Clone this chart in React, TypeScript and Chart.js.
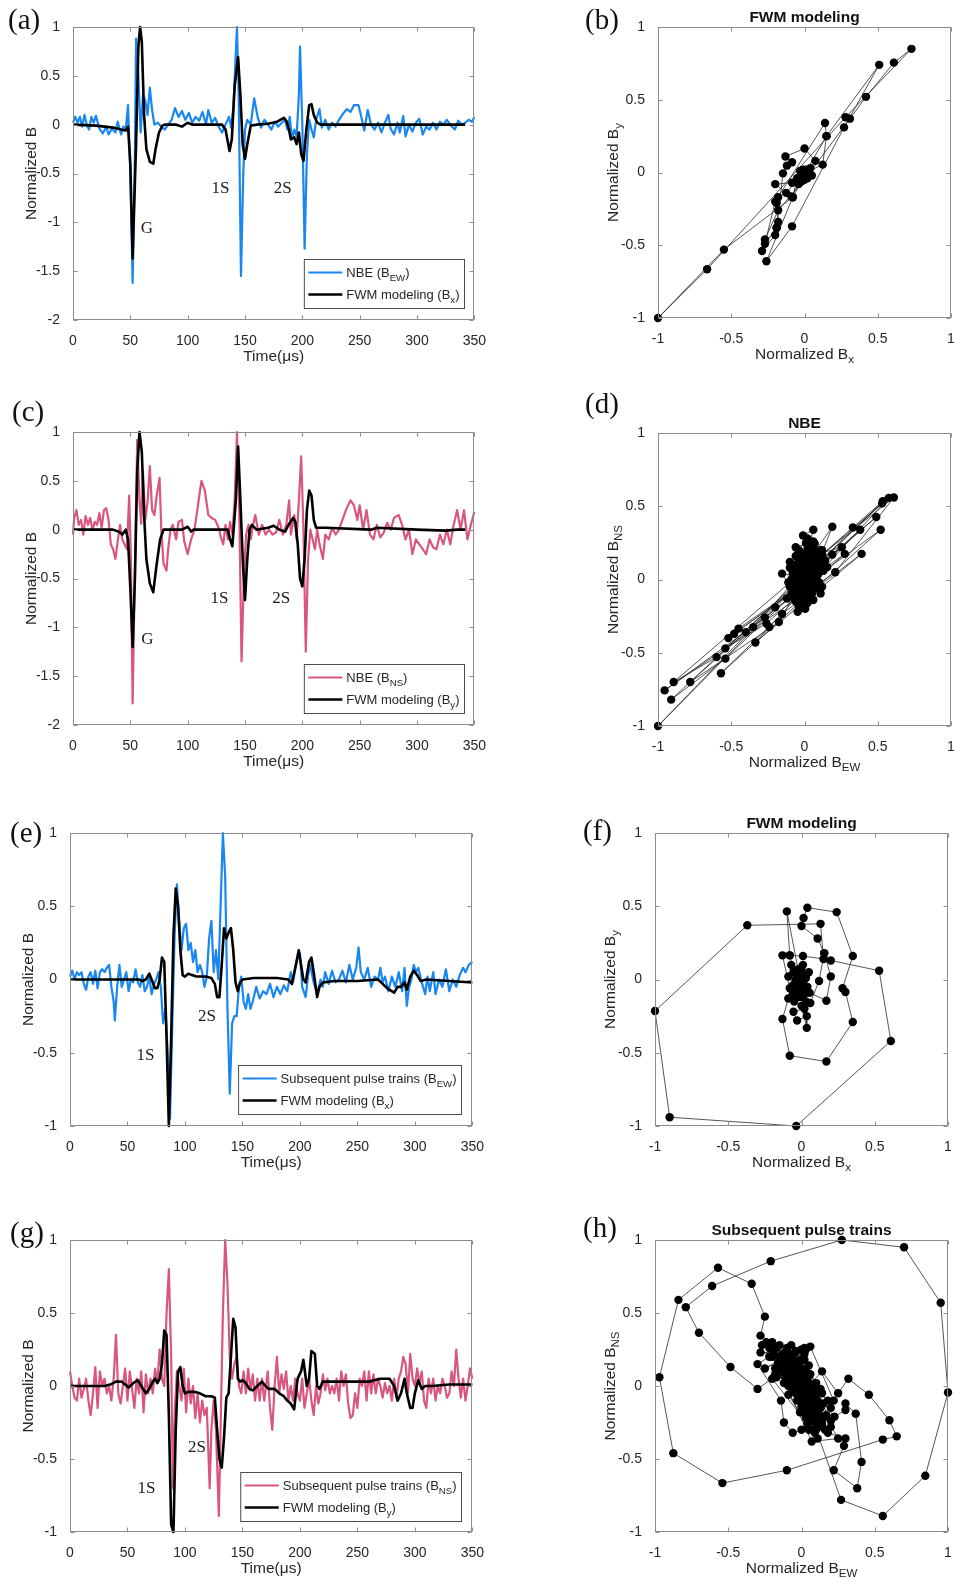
import { useEffect, useRef } from 'react'
import { Chart, registerables } from 'chart.js'

Chart.register(...registerables)

const SANS = '"Liberation Sans", Arial, Helvetica, sans-serif'
const SERIF = '"Liberation Serif", "Times New Roman", serif'
const INK = '#262626'
const FRAME = '#8c8c8c'
const BLUE = '#1a86f0'
const PINK = '#d9577f'

Chart.defaults.font.family = SANS

type Pt = [number, number]
type Run = [string, boolean]

// ---------- (a) NBE B_EW and FWM B_x ----------
const A_NBE: Pt[] = [[0,0.02],[2,0.08],[4,0.02],[6,0.08],[8,-0.02],[10,0.1],[12,0.0],[14,-0.05],[16,0.08],[18,0.02],[20,0.09],[23,-0.04],[26,-0.09],[29,-0.02],[31,-0.1],[34,-0.04],[37,-0.08],[39,0.03],[42,-0.1],[44,-0.02],[46,-0.05],[48,0.2],[50,-0.5],[52,-1.62],[54,-0.3],[55,0.88],[57,0.5],[59,-0.08],[61,0.3],[63,0.25],[65,0.1],[67,0.38],[69,0.15],[71,0.0],[74,0.02],[77,-0.02],[80,-0.05],[83,0.0],[86,0.05],[89,0.17],[92,0.08],[95,0.14],[98,0.05],[101,0.12],[104,0.02],[107,0.08],[110,0.04],[113,0.13],[116,0.0],[118,0.15],[121,0.02],[124,0.07],[127,-0.02],[130,-0.08],[133,0.0],[136,0.08],[138,-0.03],[140,0.2],[143,1.0],[144.5,0.3],[146.5,-1.55],[148.5,-0.5],[150,-0.05],[152,0.05],[155,0.0],[158,0.27],[161,0.08],[164,-0.03],[167,0.05],[170,0.0],[173,-0.05],[176,0.03],[179,-0.02],[182,0.02],[185,0.05],[187,-0.05],[189,0.08],[191,-0.15],[193,-0.05],[195,-0.12],[197,0.3],[198,0.8],[200,0.0],[202,-1.27],[204,-0.3],[206,0.05],[208,-0.05],[210,-0.13],[212,0.05],[215,0.16],[217,-0.03],[220,0.05],[223,-0.05],[226,0.02],[229,-0.02],[232,0.05],[236,0.12],[239,0.16],[242,0.13],[245,0.2],[249,0.2],[252,0.05],[254,-0.06],[257,0.15],[260,0.0],[263,-0.05],[266,0.02],[269,-0.08],[272,0.02],[275,0.1],[277,-0.04],[280,-0.1],[283,0.02],[285,-0.08],[288,0.09],[290,-0.12],[293,0.0],[296,-0.07],[299,0.02],[302,0.06],[305,-0.1],[308,-0.02],[311,-0.05],[314,0.02],[317,-0.05],[320,0.03],[323,0.0],[326,0.05],[329,0.0],[333,-0.05],[336,0.04],[339,0.0],[342,0.02],[345,0.05],[348,0.03],[350,0.08]]
const A_FWM: Pt[] = [[0,0],[20,-0.01],[35,-0.03],[42,-0.05],[46,-0.06],[48,-0.02],[50,-0.4],[52,-1.37],[55,-0.2],[57,0.8],[58.5,1.0],[60,0.85],[62,0.1],[64,-0.25],[67,-0.38],[70,-0.4],[72,-0.25],[75,-0.08],[78,-0.01],[80,0.0],[90,0.0],[95,-0.02],[100,0.02],[104,0.0],[130,0.0],[133,-0.05],[136.5,-0.27],[138.5,-0.15],[141,0.4],[144,0.69],[146,0.3],[148,-0.2],[150,-0.35],[152,-0.2],[155,-0.01],[160,0.0],[170,0.01],[178,0.03],[184,0.07],[186,0.04],[188,-0.03],[190,-0.15],[193,-0.13],[195,-0.2],[197,-0.08],[199,-0.3],[201,-0.37],[203.5,-0.05],[206,0.2],[208,0.21],[210,0.1],[213,0.02],[216,0.0],[260,0.0],[300,0.0],[342,0.0]]

// ---------- (c) NBE B_NS and FWM B_y ----------
const C_NBE: Pt[] = [[0,-0.05],[1,0.12],[3,0.2],[5,0.05],[7,0.1],[9,-0.05],[11,0.14],[13,0.05],[15,0.12],[17,0.0],[19,0.08],[21,0.05],[23,0.17],[25,0.02],[27,0.2],[29,0.22],[31,0.1],[33,-0.15],[35,-0.2],[37,-0.3],[39,-0.12],[41,0.05],[43,-0.1],[45,-0.15],[47,-0.2],[49,0.35],[50.5,-0.3],[52,-1.78],[54,-0.4],[56,0.92],[58,0.3],[59.5,0.06],[61,0.6],[63,0.1],[65,0.28],[67,0.65],[69,0.2],[71,0.15],[73,0.35],[75.5,0.53],[77,0.0],[79,-0.35],[81.5,-0.42],[83,-0.2],[85,0.0],[87,0.05],[90,-0.1],[92,0.08],[95,0.1],[97,-0.12],[100,-0.25],[103,-0.1],[106,0.0],[109,0.25],[112,0.5],[115,0.4],[118,0.15],[121,0.12],[124,0.1],[127,0.02],[129,-0.08],[131,-0.15],[133,0.05],[135,-0.1],[137,0.08],[139,-0.05],[141,0.3],[143,1.0],[145,0.2],[147,-1.35],[149,-0.5],[151,-0.05],[153,0.05],[155,-0.1],[157,0.05],[159,0.15],[162,-0.05],[165,0.05],[168,-0.05],[171,0.0],[174,-0.05],[177,-0.03],[180,0.1],[183,-0.05],[186,0.05],[188.5,0.3],[190,-0.05],[193,0.15],[195,-0.1],[197,0.3],[199,0.75],[201,0.0],[203,-1.25],[205,-0.3],[207,0.0],[209,-0.1],[211,-0.2],[213,0.0],[215,-0.15],[218,-0.3],[220,-0.05],[223,-0.1],[226,0.02],[229,-0.05],[232,0.0],[235,0.1],[238,0.2],[242,0.3],[245,0.25],[248,0.1],[250,0.25],[253,0.0],[256,0.2],[259,-0.05],[262,-0.1],[265,0.05],[268,-0.08],[271,-0.03],[274,0.07],[277,0.0],[280,0.12],[284,0.15],[287,0.05],[290,-0.1],[293,0.0],[296,-0.25],[299,-0.1],[302,-0.15],[305,-0.2],[308,-0.25],[311,-0.1],[314,-0.18],[317,-0.2],[320,-0.05],[323,-0.15],[326,0.0],[329,-0.15],[332,0.05],[335,0.2],[338,0.0],[341,0.2],[344,-0.1],[347,0.05],[350,0.18]]
const C_FWM: Pt[] = [[0,0],[35,0],[40,-0.02],[43,-0.05],[46,0.0],[48,-0.1],[50,-0.6],[52,-1.2],[54,-0.5],[56,0.6],[58,1.0],[60,0.8],[62,0.15],[64,-0.3],[67,-0.55],[70,-0.64],[73,-0.35],[76,-0.1],[79,0.0],[95,0.0],[100,0.03],[103,-0.02],[105,0.0],[135,0.0],[137,-0.1],[139,-0.17],[142,0.3],[144,0.85],[146,0.3],[148,-0.3],[150,-0.72],[152,-0.3],[154,0.0],[156,0.05],[160,0.0],[170,0.02],[175,0.04],[180,0.0],[185,-0.02],[188,0.05],[192,0.12],[194,0.08],[196,-0.15],[198,-0.5],[200,-0.58],[202,-0.3],[204,0.2],[206,0.4],[208,0.35],[210,0.1],[212,0.02],[220,0.02],[260,0.0],[265,0.02],[300,0.0],[325,-0.01],[335,0.0],[342,0.0]]

// ---------- (e) subsequent pulse trains B_EW and FWM B_x ----------
const E_SPT: Pt[] = [[0,0.02],[2,0.06],[4,0.0],[6,0.05],[8,0.03],[10,0.05],[12,-0.03],[14,-0.07],[16,0.02],[18,0.05],[20,-0.03],[22,0.06],[24,-0.06],[26,0.05],[28,0.07],[30,0.05],[32,0.08],[34,0.1],[36,-0.05],[38,-0.15],[39,-0.28],[41,-0.05],[43,0.1],[45,-0.05],[47,0.0],[49,0.05],[51,-0.08],[53,0.0],[55,-0.02],[57,0.07],[59,-0.02],[61,-0.05],[63,0.03],[65,-0.08],[67,-0.05],[69,0.02],[71,-0.1],[73,-0.03],[75,0.0],[77,0.05],[79,-0.05],[81,-0.3],[83,-0.2],[85,-0.5],[87,-0.95],[89,-0.3],[91,0.3],[93,0.65],[95,0.4],[97,0.2],[99,0.35],[101,0.38],[103,0.2],[105,0.25],[107,0.12],[109,0.2],[111,0.05],[113,0.1],[115,0.05],[117,-0.05],[119,0.02],[121,0.28],[123,0.4],[125,0.05],[127,0.2],[129,0.0],[131,0.5],[133,1.0],[135,0.7],[137,-0.2],[139,-0.78],[141,-0.3],[143,-0.25],[145,-0.25],[147,-0.05],[149,0.02],[151,-0.15],[153,-0.2],[155,-0.1],[157,-0.2],[159,-0.15],[162,-0.05],[165,-0.13],[168,-0.08],[171,-0.1],[174,-0.03],[177,-0.12],[180,-0.05],[183,-0.1],[186,-0.04],[189,-0.08],[192,0.05],[194,-0.02],[196,0.08],[198,0.15],[200,0.18],[202,-0.05],[205,-0.12],[207,0.02],[209,0.1],[212,-0.02],[215,-0.1],[218,0.0],[220,-0.05],[222,0.05],[225,-0.03],[228,0.06],[231,-0.02],[234,0.0],[237,0.06],[240,-0.02],[243,0.1],[246,0.0],[249,0.08],[251,0.22],[253,0.05],[256,0.0],[259,0.08],[262,-0.05],[265,0.02],[268,0.0],[270,0.08],[272,-0.02],[274,0.02],[277,-0.08],[280,0.02],[283,-0.05],[286,0.05],[289,-0.08],[291,0.08],[293,-0.18],[295,-0.05],[297,0.0],[299,0.1],[301,0.05],[303,0.08],[306,-0.02],[309,-0.1],[311,0.02],[313,-0.08],[316,0.05],[318,-0.1],[321,0.0],[324,-0.05],[327,0.07],[330,-0.08],[333,0.0],[336,-0.05],[339,0.03],[342,0.08],[344,0.05],[347,0.1],[350,0.12]]
const E_FWM: Pt[] = [[0,0],[30,0],[60,0],[63,-0.01],[66,0.0],[69,0.04],[72,-0.02],[74,-0.06],[76,-0.06],[78,0.0],[80,0.15],[82,0.12],[84,-0.4],[86,-1.0],[88,-0.4],[90,0.3],[92,0.62],[94,0.5],[96,0.2],[98,0.03],[100,0.02],[103,0.04],[106,0.03],[110,0.02],[118,0.02],[123,0.01],[126,-0.03],[128,-0.12],[130,-0.12],[132,0.1],[134,0.35],[136,0.28],[138,0.32],[140,0.35],[142,0.2],[144,-0.02],[146,-0.08],[148,-0.02],[150,0.0],[160,0.01],[170,0.01],[180,0.01],[190,0.0],[193,-0.03],[196,0.08],[199,0.2],[201,0.1],[203,0.0],[205,-0.02],[208,0.12],[210,0.15],[212,0.05],[215,-0.12],[217,-0.05],[220,-0.02],[230,-0.01],[250,-0.01],[268,0.0],[272,-0.03],[276,-0.06],[282,-0.09],[285,-0.05],[288,-0.05],[291,-0.02],[293,-0.07],[296,0.02],[299,0.06],[302,0.03],[305,-0.01],[310,0.0],[330,-0.01],[350,-0.02]]

// ---------- (g) subsequent pulse trains B_NS and FWM B_y ----------
const G_SPT: Pt[] = [[0,0.1],[2,0.0],[4,-0.08],[6,-0.1],[8,0.05],[10,-0.08],[12,-0.02],[14,0.05],[16,-0.1],[18,-0.2],[20,-0.05],[22,0.13],[24,-0.15],[26,0.1],[28,0.0],[30,0.05],[32,-0.05],[34,0.0],[36,-0.1],[38,0.05],[40,0.35],[42,-0.05],[44,-0.12],[46,0.0],[48,0.12],[50,-0.1],[52,0.1],[54,-0.02],[56,-0.15],[58,0.05],[60,-0.05],[62,0.1],[64,-0.18],[66,0.08],[68,-0.05],[70,0.05],[72,-0.05],[74,0.12],[76,0.02],[78,0.25],[80,0.05],[82,0.0],[84,0.5],[86,0.8],[88,0.2],[89.5,-0.7],[91,-0.2],[93,0.1],[95,0.0],[97,-0.1],[99,0.12],[101,-0.18],[103,0.05],[105,-0.12],[107,0.0],[109,-0.22],[111,-0.05],[113,-0.25],[115,-0.1],[117,-0.2],[119,-0.15],[121.5,-0.7],[123,-0.3],[125,-0.1],[127,-0.3],[129.5,-0.89],[131,-0.3],[133,0.5],[135,1.0],[137,0.7],[139,0.2],[141,0.05],[143,0.15],[145,0.2],[147,0.0],[149,-0.05],[151,0.1],[153,-0.05],[155,0.12],[157,-0.03],[159,0.08],[161,-0.1],[163,0.05],[165,-0.1],[167,0.05],[169,-0.1],[172,0.1],[174,-0.15],[176,-0.3],[178,0.0],[180,0.2],[182,-0.05],[184,0.08],[186,-0.02],[188,0.1],[190,-0.1],[192,0.0],[194,-0.1],[196,0.05],[198,-0.05],[200,-0.1],[202,0.05],[204,-0.15],[206,-0.05],[208,0.05],[210,-0.1],[212,-0.2],[214,0.0],[216,-0.12],[218,-0.05],[220,0.08],[222,-0.03],[224,0.05],[226,-0.05],[228,0.0],[230,-0.05],[232,0.05],[234,-0.1],[236,0.1],[238,0.0],[240,0.08],[242,-0.12],[244,-0.22],[246,-0.2],[248,-0.05],[250,-0.15],[252,0.05],[254,0.0],[256,0.1],[258,-0.1],[260,0.1],[262,-0.05],[264,0.08],[266,-0.05],[268,0.05],[270,0.0],[272,-0.08],[274,0.02],[276,-0.05],[278,0.0],[280,-0.1],[282,0.05],[284,-0.08],[286,0.05],[288,0.1],[290,0.2],[292,0.15],[294,-0.05],[296,0.22],[298,0.05],[300,0.0],[302,0.12],[304,0.02],[306,0.1],[308,-0.1],[310,-0.15],[312,0.05],[314,-0.05],[316,0.05],[318,-0.1],[320,0.0],[322,-0.05],[324,0.05],[326,0.0],[328,-0.08],[330,-0.05],[332,0.1],[334,0.0],[336,0.25],[338,0.05],[340,-0.08],[342,0.05],[344,-0.1],[346,0.0],[348,0.12],[350,0.05]]
const G_FWM: Pt[] = [[0,0],[30,0],[35,0.01],[40,0.03],[45,0.03],[48,0.01],[51,-0.01],[55,0.02],[59,0.04],[62,0.0],[66,-0.05],[69,-0.02],[72,0.03],[74,0.05],[76,0.02],[78,0.05],[80,0.15],[82,0.38],[84,0.35],[86,-0.2],[88,-0.95],[90,-1.0],[92,-0.3],[94,0.1],[96,0.13],[98,0.0],[100,-0.05],[103,-0.04],[108,-0.04],[113,-0.05],[118,-0.07],[123,-0.07],[126,-0.08],[128,-0.3],[130,-0.5],[132,-0.56],[134,-0.35],[136,-0.08],[138,-0.05],[140,0.2],[142,0.46],[144,0.4],[146,0.05],[148,0.03],[150,0.04],[153,0.02],[156,-0.02],[159,-0.03],[163,0.0],[167,0.03],[170,0.0],[173,-0.02],[178,-0.02],[182,-0.05],[186,-0.07],[189,-0.1],[192,-0.12],[195,-0.16],[198,0.05],[201,0.1],[203,0.18],[206,0.0],[208,0.05],[210,0.24],[213,0.22],[215,0.0],[217,-0.02],[220,0.03],[225,0.03],[240,0.03],[260,0.03],[270,0.05],[278,0.05],[282,0.0],[285,-0.1],[288,-0.05],[291,0.05],[293,-0.05],[296,-0.15],[298,-0.15],[300,-0.05],[303,0.04],[306,-0.02],[309,0.0],[315,0.0],[330,0.01],[350,0.01]]

// ---------- hodograms (normalized B components, in time order) ----------
const B_XY: Pt[] = [[0,0],[0.01,-0.01],[-0.02,0.0],[0.02,-0.02],[-0.03,-0.03],[-0.05,-0.04],[-0.08,-0.17],[-0.55,-0.53],[-1,-1],[-0.665,-0.665],[0.28,0.38],[0.73,0.85],[0.61,0.755],[0.42,0.52],[0.31,0.37],[0.0,-0.05],[-0.18,-0.26],[-0.27,-0.46],[-0.29,-0.54],[-0.2,-0.43],[-0.19,-0.38],[-0.18,-0.34],[-0.19,-0.21],[-0.18,-0.17],[-0.125,-0.14],[-0.05,-0.05],[-0.02,0.0],[0.02,0.01],[-0.01,0.02],[0.03,-0.01],[0.0,0.0],[0.01,0.02],[-0.03,0.01],[-0.085,-0.07],[-0.2,-0.08],[-0.09,-0.165],[0.15,0.25],[0.51,0.74],[0.27,0.31],[-0.085,-0.37],[-0.26,-0.61],[-0.08,-0.17],[-0.02,-0.06],[0.05,-0.02],[0.02,0.0],[0.04,0.03],[0.074,0.08],[0.0,0.165],[-0.13,0.11],[-0.085,0.07],[-0.12,0.047],[-0.147,-0.006],[-0.19,-0.38],[-0.27,-0.49],[-0.2,-0.2],[0.14,0.34],[0.15,0.25],[0.124,0.054],[0.03,0.01],[-0.01,-0.03],[0.0,0.0],[-0.04,-0.08],[0.02,-0.04]]

const D_XY: Pt[] = [[0.02,0.05],[-0.03,0.1],[0.04,0.02],[0.0,0.12],[-0.05,0.04],[0.06,0.08],[0.01,-0.03],[0.05,0.1],[-0.02,0.06],[0.07,0.12],[0.0,-0.08],[-0.06,-0.15],[-0.02,-0.12],[0.03,-0.02],[-0.07,-0.06],[-0.03,-0.1],[0.12,0.2],[-0.35,-0.325],[-1,-1],[-0.2,-0.19],[0.535,0.535],[0.33,0.355],[-0.04,0.03],[0.19,0.36],[0.07,0.06],[0.04,0.16],[0.255,0.22],[0.06,0.1],[0.0,0.12],[0.06,0.34],[-0.01,0.3],[0.07,0.245],[0.02,0.2],[-0.05,0.02],[-0.153,0.04],[-0.1,-0.05],[-0.04,-0.18],[0.03,-0.1],[-0.08,-0.12],[0.0,-0.02],[0.05,0.05],[-0.03,0.08],[0.09,0.15],[0.02,-0.05],[-0.06,0.0],[0.01,0.04],[0.08,0.0],[-0.02,-0.15],[0.05,0.18],[-0.04,0.12],[0.1,0.08],[0.0,0.0],[-0.07,0.06],[0.04,-0.08],[0.12,0.17],[0.61,0.56],[0.21,0.05],[-0.955,-0.757],[-0.27,-0.26],[-0.01,-0.05],[0.08,-0.03],[0.155,0.085],[0.03,0.1],[-0.05,-0.08],[0.11,-0.095],[0.06,-0.14],[-0.03,0.02],[0.04,0.13],[0.0,-0.12],[-0.09,0.0],[0.06,0.02],[-0.02,0.18],[0.1,0.12],[0.02,0.28],[-0.04,0.2],[0.03,0.06],[-0.08,-0.02],[0.0,0.06],[0.05,-0.04],[-0.047,-0.22],[0.005,-0.2],[-0.02,-0.08],[0.19,0.17],[0.49,0.427],[0.0,0.0],[-0.78,-0.7],[-0.175,-0.29],[-0.04,-0.06],[-0.12,-0.13],[0.52,0.34],[-0.57,-0.64],[-0.153,-0.235],[0.39,0.175],[-0.335,-0.43],[-0.24,-0.325],[0.575,0.557],[-0.893,-0.7],[-0.6,-0.53],[0.53,0.52],[-0.91,-0.82],[-0.54,-0.54],[0.38,0.34],[-0.54,-0.47],[-0.26,-0.3],[0.275,0.175],[-0.52,-0.4],[-0.48,-0.37],[0.1,0.05],[-0.45,-0.335],[-0.4,-0.36],[0.0,-0.05],[0.05,0.04],[0.12,0.1],[-0.06,-0.1],[0.03,0.0],[-0.02,0.05],[0.06,-0.06],[-0.1,0.08],[0.01,0.14],[0.04,-0.12],[-0.05,0.1],[0.09,0.03],[-0.03,-0.03],[0.02,0.08],[0.07,-0.02],[-0.01,-0.1],[0.0,0.03],[-0.08,0.04],[0.11,0.2],[-0.06,0.16],[0.08,0.1],[-0.09,-0.1],[0.13,0.06],[-0.03,-0.2],[0.03,0.22],[-0.11,-0.02],[0.09,-0.06],[-0.05,-0.14],[0.14,0.13],[0.01,0.25],[-0.07,0.1],[0.05,-0.1],[-0.01,0.16],[0.1,-0.02],[-0.04,-0.04],[0.07,0.2],[-0.1,0.12],[0.02,-0.16],[0.06,0.26],[-0.06,0.22],[0.12,-0.05]]

const F_XY: Pt[] = [[0.0,0.0],[-0.02,0.02],[0.01,-0.03],[-0.03,0.05],[0.02,0.03],[-0.01,-0.06],[0.03,0.01],[-0.04,-0.02],[0.0,0.08],[0.02,-0.1],[-0.05,0.06],[0.04,-0.05],[-0.02,-0.12],[0.01,0.1],[-0.06,-0.04],[0.03,-0.15],[-0.09,0.02],[-0.07,0.1],[0.05,0.05],[-0.08,-0.06],[-0.13,0.165],[-0.08,0.165],[0.01,0.16],[0.15,0.14],[0.13,0.38],[-0.37,0.37],[-1,-0.215],[-0.9,-0.94],[-0.036,-1],[0.61,-0.42],[0.53,0.06],[0.2,0.13],[0.155,0.18],[0.12,-0.01],[0.06,-0.16],[0.02,-0.2],[-0.055,-0.22],[-0.03,-0.28],[0.036,-0.25],[0.036,-0.33],[0.0,-0.18],[-0.09,-0.13],[-0.13,-0.27],[-0.08,-0.52],[0.17,-0.56],[0.35,-0.29],[0.3,-0.085],[0.28,-0.06],[0.35,0.16],[0.24,0.46],[0.04,0.49],[0.014,0.42],[0.0,0.365],[0.11,0.28],[0.155,0.18],[0.2,0.02],[0.17,-0.145],[0.055,-0.09],[0.0,-0.05],[-0.1,0.465],[-0.08,0.165],[-0.05,0.05],[0.0,0.02],[-0.03,-0.08],[0.02,-0.05],[-0.06,-0.1],[0.01,0.04],[-0.04,0.0],[0.03,-0.08],[-0.02,0.07],[0.0,-0.12],[-0.05,-0.15],[0.02,0.0]]

const H_XY: Pt[] = [[-0.02,0.05],[0.03,-0.04],[-0.06,0.08],[0.05,-0.08],[0.0,0.0],[-0.1,0.12],[0.08,-0.12],[-0.04,0.02],[0.02,0.06],[0.06,-0.02],[-0.08,0.04],[0.1,-0.06],[-0.03,0.15],[0.04,-0.15],[-0.12,0.18],[0.12,-0.2],[0.01,-0.1],[-0.05,0.1],[0.07,-0.05],[-0.09,0.0],[0.03,0.1],[-0.01,-0.06],[0.14,0.1],[0.25,-0.05],[0.32,0.05],[0.46,-0.06],[0.6,-0.235],[0.65,-0.345],[0.555,-0.367],[-0.1,-0.577],[-0.54,-0.665],[-0.875,-0.46],[-0.97,0.06],[-0.84,0.59],[-0.57,0.81],[-0.34,0.7],[-0.25,0.475],[-0.28,0.345],[-0.2,0.3],[-0.27,0.28],[-0.17,0.26],[-0.22,0.2],[-0.1,0.24],[-0.14,0.18],[-0.25,0.12],[-0.05,0.22],[-0.12,0.1],[-0.18,0.08],[0.0,0.18],[-0.08,0.14],[0.03,0.25],[0.09,-0.18],[-0.14,0.1],[0.05,0.02],[-0.07,0.2],[0.11,-0.1],[-0.02,-0.02],[0.0,0.12],[0.06,-0.22],[-0.11,0.06],[0.08,0.0],[-0.04,-0.05],[0.13,-0.15],[0.2,-0.28],[0.29,-0.41],[0.22,-0.577],[0.38,-0.7],[0.41,-0.52],[0.37,-0.19],[0.3,-0.12],[0.3,-0.165],[0.225,-0.21],[-0.06,0.14],[0.02,-0.18],[-0.16,0.16],[0.04,0.04],[-0.01,0.08],[0.1,-0.25],[-0.08,0.1],[0.07,-0.14],[-0.03,-0.1],[0.15,-0.12],[-0.13,0.22],[0.0,-0.14],[0.05,-0.3],[-0.05,0.18],[0.12,-0.28],[-0.1,0.26],[0.02,0.18],[-0.18,0.12],[0.1,-0.3],[0.27,-0.78],[0.555,-0.89],[0.845,-0.615],[1.0,-0.045],[0.95,0.57],[0.7,0.95],[0.275,1.0],[-0.21,0.855],[-0.61,0.685],[-0.79,0.54],[-0.7,0.365],[-0.485,0.13],[-0.3,-0.02],[-0.2,0.05],[0.09,-0.32],[0.17,-0.2],[-0.06,-0.02],[0.03,-0.22],[-0.2,0.2],[0.06,0.08],[0.14,-0.05],[-0.12,0.02],[0.0,0.25],[0.08,-0.3],[-0.15,0.28],[0.2,-0.24],[-0.04,0.24],[0.1,0.02],[-0.09,-0.06],[0.04,-0.26],[0.18,-0.1],[-0.22,0.26],[0.11,-0.36],[-0.07,0.28],[0.05,0.14],[-0.17,0.06],[0.13,-0.02],[-0.01,-0.18],[0.16,-0.3],[-0.24,0.3],[0.07,-0.38],[0.25,-0.36],[0.3,-0.36],[0.18,-0.32],[0.02,0.22],[-0.28,0.23],[-0.19,0.22],[-0.3,0.15],[-0.14,-0.1],[-0.12,-0.25],[-0.06,-0.32],[0.0,-0.3],[0.08,-0.24],[0.2,-0.15],[0.22,-0.1],[0.06,0.27],[0.02,0.26],[-0.03,0.04],[0.04,-0.06],[-0.07,0.06],[0.01,-0.02],[0.09,-0.08],[-0.05,0.0],[0.0,0.06],[0.05,-0.12],[-0.09,0.08],[0.12,-0.12],[-0.02,0.1],[0.07,-0.2],[-0.13,0.14],[0.03,-0.08],[0.1,-0.16],[-0.06,0.04],[0.15,-0.22],[-0.02,0.16],[0.06,-0.1],[-0.1,0.18],[0.01,0.02],[0.14,-0.26],[-0.04,0.08],[0.09,-0.04],[-0.15,0.2],[0.04,-0.18],[-0.08,0.22]]

const TIME_TICKS = { min: 0, max: 350, step: 50 }
const HODO_TICKS = { min: -1, max: 1, step: 0.5 }

// ---------- drawing helpers ----------
interface Decor {
  xTitle: Run[]
  yTitle: Run[]
  yTitleOff: number
  title?: string
  notes?: { x: number; y: number; text: string }[]
  legend?: { color: string; width: number; runs: Run[] }[]
  legendRight?: number
  legendBottom?: number
}

function runsWidth(ctx: CanvasRenderingContext2D, runs: Run[], size: number) {
  let w = 0
  for (const [s, sub] of runs) {
    ctx.font = `${sub ? size * 0.74 : size}px ${SANS}`
    w += ctx.measureText(s).width
  }
  return w
}

function drawRuns(ctx: CanvasRenderingContext2D, runs: Run[], x: number, y: number, size: number) {
  let cx = x
  for (const [s, sub] of runs) {
    const fs = sub ? size * 0.74 : size
    ctx.font = `${fs}px ${SANS}`
    ctx.fillText(s, cx, sub ? y + size * 0.3 : y)
    cx += ctx.measureText(s).width
  }
}

function decorPlugin(d: Decor) {
  return {
    id: 'decor',
    afterDatasetsDraw(chart: any) {
      const { ctx, chartArea: a, scales } = chart
      const l = Math.round(a.left) + 0.5
      const r = Math.round(a.right) - 0.5
      const t = Math.round(a.top) + 0.5
      const b = Math.round(a.bottom) - 0.5
      ctx.save()
      ctx.strokeStyle = FRAME
      ctx.lineWidth = 1
      ctx.strokeRect(l, t, r - l, b - t)
      ctx.beginPath()
      for (const tk of scales.x.ticks) {
        const x = Math.round(scales.x.getPixelForValue(tk.value)) + 0.5
        ctx.moveTo(x, b); ctx.lineTo(x, b - 4)
        ctx.moveTo(x, t); ctx.lineTo(x, t + 4)
      }
      for (const tk of scales.y.ticks) {
        const y = Math.round(scales.y.getPixelForValue(tk.value)) + 0.5
        ctx.moveTo(l, y); ctx.lineTo(l + 4, y)
        ctx.moveTo(r, y); ctx.lineTo(r - 4, y)
      }
      ctx.stroke()

      if (d.notes) {
        ctx.fillStyle = '#1a1a1a'
        ctx.font = `17px ${SERIF}`
        ctx.textAlign = 'center'
        ctx.textBaseline = 'middle'
        for (const n of d.notes) {
          ctx.fillText(n.text, scales.x.getPixelForValue(n.x), scales.y.getPixelForValue(n.y))
        }
      }

      if (d.legend) {
        const fs = 13
        const tw = Math.max(...d.legend.map(e => runsWidth(ctx, e.runs, fs)))
        const w = 42 + tw + 5
        const h = 49
        const x1 = Math.round(a.right - (d.legendRight ?? 9)) - 0.5
        const y1 = Math.round(a.bottom - (d.legendBottom ?? 11)) - 0.5
        const x0 = x1 - w
        const y0 = y1 - h
        ctx.fillStyle = '#fff'
        ctx.fillRect(x0, y0, w, h)
        ctx.strokeStyle = '#4d4d4d'
        ctx.lineWidth = 1
        ctx.strokeRect(x0, y0, w, h)
        d.legend.forEach((e, i) => {
          const cy = y0 + 13 + i * 22
          ctx.strokeStyle = e.color
          ctx.lineWidth = e.width
          ctx.beginPath()
          ctx.moveTo(x0 + 4, cy); ctx.lineTo(x0 + 38, cy)
          ctx.stroke()
          ctx.fillStyle = INK
          ctx.textAlign = 'left'
          ctx.textBaseline = 'alphabetic'
          drawRuns(ctx, e.runs, x0 + 42, cy + 4.5, fs)
        })
      }
      ctx.restore()
    },
    afterDraw(chart: any) {
      const { ctx, chartArea: a } = chart
      const fs = 15.5
      ctx.save()
      ctx.fillStyle = INK
      ctx.textAlign = 'left'
      ctx.textBaseline = 'alphabetic'
      const cx = (a.left + a.right) / 2
      const xw = runsWidth(ctx, d.xTitle, fs)
      drawRuns(ctx, d.xTitle, cx - xw / 2, a.bottom + 35 + 5.5, fs)
      const yw = runsWidth(ctx, d.yTitle, fs)
      ctx.translate(a.left - d.yTitleOff, (a.top + a.bottom) / 2)
      ctx.rotate(-Math.PI / 2)
      drawRuns(ctx, d.yTitle, -yw / 2, 5.5, fs)
      ctx.restore()
      if (d.title) {
        ctx.save()
        ctx.fillStyle = '#111'
        ctx.font = `bold 15.5px ${SANS}`
        ctx.textAlign = 'center'
        ctx.textBaseline = 'alphabetic'
        ctx.fillText(d.title, cx, a.top - 11 + 5.5)
        ctx.restore()
      }
    },
  }
}

const L = 70
const T = 22
const R = 16
const B = 50

interface PanelSpec {
  tag: string
  tagX: number
  tagY: number
  box: [number, number, number, number]
  xr: { min: number; max: number; step: number }
  yr: { min: number; max: number; step: number }
  datasets: any[]
  decor: Decor
}

function line(data: Pt[], color: string, width: number) {
  return {
    data: data.map(([x, y]) => ({ x, y })),
    showLine: true,
    borderColor: color,
    borderWidth: width,
    borderJoinStyle: 'round',
    pointRadius: 0,
    tension: 0,
    clip: false,
  }
}

function hodo(data: Pt[]) {
  return {
    data: data.map(([x, y]) => ({ x, y })),
    showLine: true,
    borderColor: '#2b2b2b',
    borderWidth: 0.8,
    pointRadius: 4.2,
    pointBackgroundColor: '#000',
    pointBorderWidth: 0,
    tension: 0,
    clip: false,
  }
}

const timeY = (min: number) => ({ min, max: 1, step: 0.5 })

const PANELS: PanelSpec[] = [
  {
    tag: '(a)', tagX: 8, tagY: 19, box: [73, 27, 402, 293], xr: TIME_TICKS, yr: timeY(-2),
    datasets: [line(A_FWM, '#000', 2.6), line(A_NBE, BLUE, 2.2)],
    decor: {
      xTitle: [['Time(μs)', false]], yTitle: [['Normalized B', false]], yTitleOff: 43,
      notes: [{ x: 64.5, y: -1.06, text: 'G' }, { x: 128.7, y: -0.655, text: '1S' }, { x: 183, y: -0.655, text: '2S' }],
      legend: [
        { color: BLUE, width: 2.2, runs: [['NBE (B', false], ['EW', true], [')', false]] },
        { color: '#000', width: 2.6, runs: [['FWM modeling (B', false], ['x', true], [')', false]] },
      ],
    },
  },
  {
    tag: '(b)', tagX: 585, tagY: 19, box: [658, 27, 293, 291], xr: HODO_TICKS, yr: HODO_TICKS,
    datasets: [hodo(B_XY)],
    decor: { xTitle: [['Normalized B', false], ['x', true]], yTitle: [['Normalized B', false], ['y', true]], yTitleOff: 46, title: 'FWM modeling' },
  },
  {
    tag: '(c)', tagX: 12, tagY: 411, box: [73, 432, 402, 293], xr: TIME_TICKS, yr: timeY(-2),
    datasets: [line(C_FWM, '#000', 2.6), line(C_NBE, PINK, 2.2)],
    decor: {
      xTitle: [['Time(μs)', false]], yTitle: [['Normalized B', false]], yTitleOff: 43,
      notes: [{ x: 64.8, y: -1.125, text: 'G' }, { x: 127.8, y: -0.71, text: '1S' }, { x: 181.5, y: -0.705, text: '2S' }],
      legend: [
        { color: PINK, width: 2.2, runs: [['NBE (B', false], ['NS', true], [')', false]] },
        { color: '#000', width: 2.6, runs: [['FWM modeling (B', false], ['y', true], [')', false]] },
      ],
    },
  },
  {
    tag: '(d)', tagX: 585, tagY: 403, box: [658, 433, 293, 293], xr: HODO_TICKS, yr: HODO_TICKS,
    datasets: [hodo(D_XY)],
    decor: { xTitle: [['Normalized B', false], ['EW', true]], yTitle: [['Normalized B', false], ['NS', true]], yTitleOff: 46, title: 'NBE' },
  },
  {
    tag: '(e)', tagX: 10, tagY: 832, box: [70, 833, 403, 293], xr: TIME_TICKS, yr: timeY(-1),
    datasets: [line(E_FWM, '#000', 2.6), line(E_SPT, BLUE, 2.2)],
    decor: {
      xTitle: [['Time(μs)', false]], yTitle: [['Normalized B', false]], yTitleOff: 43,
      notes: [{ x: 65.7, y: -0.518, text: '1S' }, { x: 119.2, y: -0.25, text: '2S' }],
      legend: [
        { color: BLUE, width: 2.2, runs: [['Subsequent pulse trains (B', false], ['EW', true], [')', false]] },
        { color: '#000', width: 2.6, runs: [['FWM modeling (B', false], ['x', true], [')', false]] },
      ],
      legendRight: 10,
    },
  },
  {
    tag: '(f)', tagX: 583, tagY: 830, box: [655, 833, 293, 293], xr: HODO_TICKS, yr: HODO_TICKS,
    datasets: [hodo(F_XY)],
    decor: { xTitle: [['Normalized B', false], ['x', true]], yTitle: [['Normalized B', false], ['y', true]], yTitleOff: 46, title: 'FWM modeling' },
  },
  {
    tag: '(g)', tagX: 10, tagY: 1232, box: [70, 1240, 403, 292], xr: TIME_TICKS, yr: timeY(-1),
    datasets: [line(G_FWM, '#000', 2.6), line(G_SPT, PINK, 2.2)],
    decor: {
      xTitle: [['Time(μs)', false]], yTitle: [['Normalized B', false]], yTitleOff: 43,
      notes: [{ x: 66.5, y: -0.7, text: '1S' }, { x: 110.5, y: -0.42, text: '2S' }],
      legend: [
        { color: PINK, width: 2.2, runs: [['Subsequent pulse trains (B', false], ['NS', true], [')', false]] },
        { color: '#000', width: 2.6, runs: [['FWM modeling (B', false], ['y', true], [')', false]] },
      ],
      legendRight: 10,
      legendBottom: 10,
    },
  },
  {
    tag: '(h)', tagX: 583, tagY: 1227, box: [655, 1240, 293, 292], xr: HODO_TICKS, yr: HODO_TICKS,
    datasets: [hodo(H_XY)],
    decor: { xTitle: [['Normalized B', false], ['EW', true]], yTitle: [['Normalized B', false], ['NS', true]], yTitleOff: 46, title: 'Subsequent pulse trains' },
  },
]

// MATLAB-style tick labels: 1, 0.5, 0, -0.5 ...
const tickLabel = (v: number | string) => String(Math.round(Number(v) * 100) / 100)

function Panel({ spec }: { spec: PanelSpec }) {
  const ref = useRef<HTMLCanvasElement>(null)
  const [px, py, pw, ph] = spec.box
  const width = pw + L + R
  const height = ph + T + B

  useEffect(() => {
    if (!ref.current) return
    const tickFont = { family: SANS, size: 14 }
    const chart = new Chart(ref.current, {
      type: 'scatter',
      data: { datasets: spec.datasets },
      options: {
        animation: false,
        responsive: false,
        events: [],
        layout: { padding: { top: T, right: R, left: 0, bottom: 0 } },
        plugins: { legend: { display: false }, tooltip: { enabled: false } },
        scales: {
          x: {
            type: 'linear',
            min: spec.xr.min,
            max: spec.xr.max,
            afterFit: (s: any) => { s.height = B },
            grid: { display: false },
            border: { display: false },
            ticks: { stepSize: spec.xr.step, font: tickFont, color: INK, padding: 5, maxRotation: 0, autoSkip: false, callback: tickLabel },
          },
          y: {
            type: 'linear',
            min: spec.yr.min,
            max: spec.yr.max,
            afterFit: (s: any) => { s.width = L },
            grid: { display: false },
            border: { display: false },
            ticks: { stepSize: spec.yr.step, font: tickFont, color: INK, padding: 5, autoSkip: false, callback: tickLabel },
          },
        },
      } as any,
      plugins: [decorPlugin(spec.decor)],
    })
    return () => chart.destroy()
  }, [spec])

  return (
    <>
      <canvas
        ref={ref}
        width={width}
        height={height}
        style={{ position: 'absolute', left: px - L, top: py - T, width, height, display: 'block' }}
      />
      <div
        style={{
          position: 'absolute', left: spec.tagX, top: spec.tagY - 15, fontFamily: SERIF,
          fontSize: 29, lineHeight: '30px', color: '#111', whiteSpace: 'nowrap',
        }}
      >
        {spec.tag}
      </div>
    </>
  )
}

export default function App() {
  return (
    <div style={{ position: 'absolute', left: 0, top: 0, width: 954, height: 1583, overflow: 'hidden', background: '#fff' }}>
      {PANELS.map(p => <Panel key={p.tag} spec={p} />)}
    </div>
  )
}
